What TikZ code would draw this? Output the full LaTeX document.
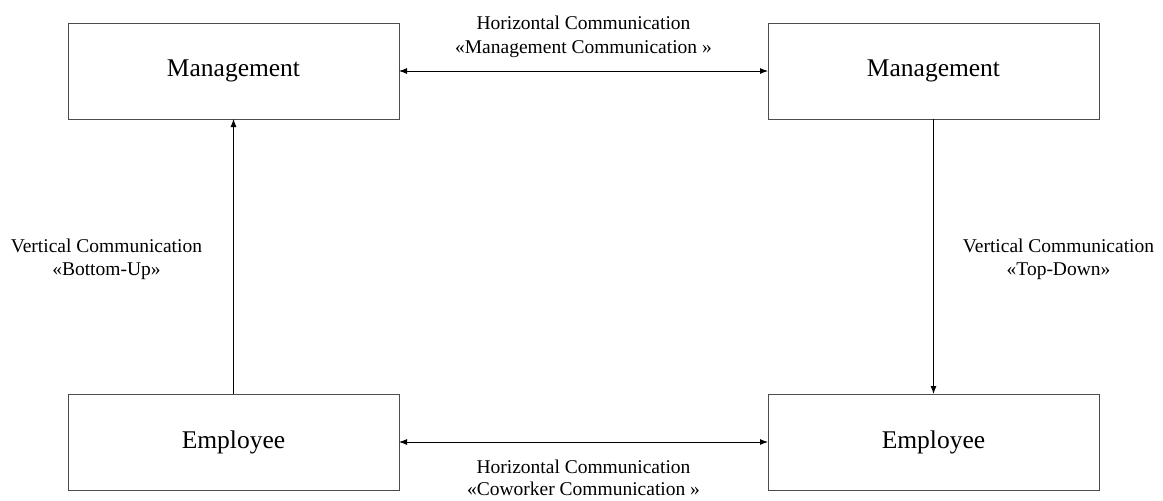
\documentclass[tikz,border=0pt]{standalone}
\usepackage{fontspec}
\setmainfont{Liberation Serif}
\usepackage{tikz}
\usetikzlibrary{arrows.meta,positioning}
\tikzstyle{unit} = [rectangle, draw=black!70, line width=1pt, fill=none, text=black, text centered, font=\fontsize{25.5}{30}\selectfont, minimum width=331pt, minimum height=96pt, inner sep=0pt, outer sep=0pt]
\tikzstyle{textonly} = [draw=none, fill=none, align=center, font=\fontsize{19.5}{23.5}\selectfont, inner sep=0pt]
\tikzstyle{tedge}  = [draw, line width=0.9pt, >={Latex[length=8pt,width=6pt]}, ->]
\tikzstyle{bedge}  = [draw, line width=0.9pt, >={Latex[length=8pt,width=6pt]}, <->]

\begin{document}
\begin{tikzpicture}[x=1pt, y=-1pt]
\useasboundingbox (0,0) rectangle (1163,501);
%boxes
\node[unit] (mgmt) at (233.5,71) {Management};
\node[unit, right = 369pt of mgmt] (mgmt1) {Management};
\node[unit, below = 275pt of mgmt] (emp) {Employee};
\node[unit, below = 275pt of mgmt1] (emp1) {Employee};

%paths
\path[bedge] (mgmt) -- node[textonly, above=13pt] (hmgmt) {Horizontal Communication\\«Management Communication »} (mgmt1);
\path[bedge] (emp) -- node[textonly, below=18pt, font=\fontsize{19.5}{22}\selectfont] (hemp) {Horizontal Communication\\«Coworker Communication »} (emp1);

\path[tedge] (emp) -- node[textonly, left=31pt, yshift=-3pt] (vup) {Vertical Communication\\«Bottom-Up»} (mgmt);
\path[tedge] (mgmt1) -- node[textonly, right=29pt, yshift=-3pt] (vdown) {Vertical Communication\\«Top-Down»} (emp1);

\end{tikzpicture}
\end{document}
